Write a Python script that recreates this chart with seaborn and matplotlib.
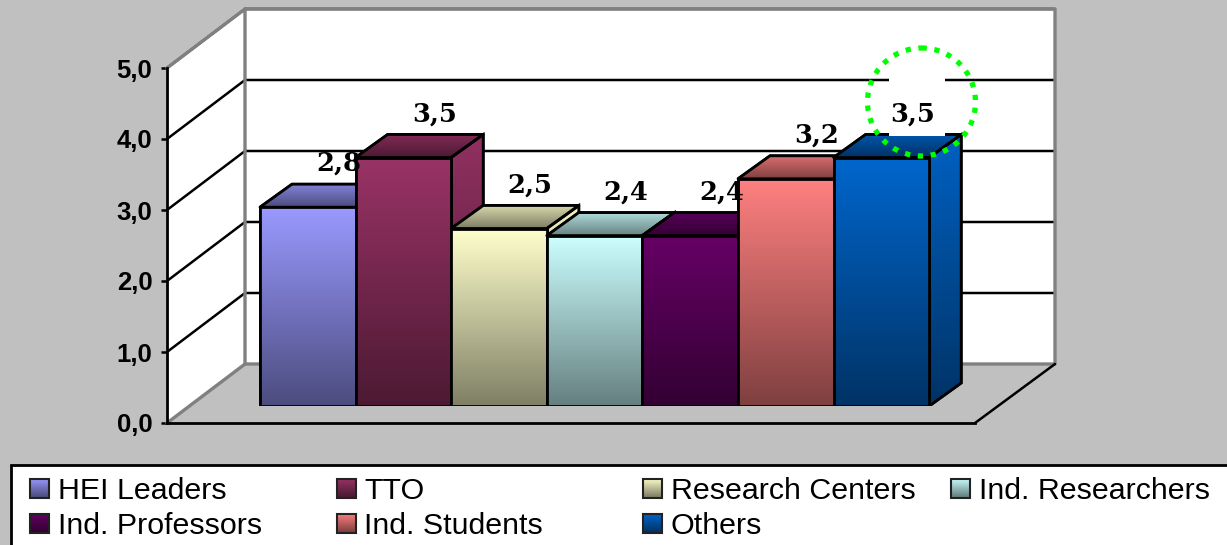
import numpy as np
import pandas as pd
import matplotlib
matplotlib.use("Agg")
import matplotlib.pyplot as plt
from matplotlib.patches import Polygon, Rectangle, Ellipse
from matplotlib.colors import to_rgb
import seaborn as sns

# Survey scores per group of respondents
groups = ["HEI Leaders", "TTO", "Research Centers", "Ind. Researchers",
          "Ind. Professors", "Ind. Students", "Others"]
scores = [2.8, 3.5, 2.5, 2.4, 2.4, 3.2, 3.5]
colors = ["#9999FF", "#993366", "#FFFFCC", "#CCFFFF", "#660066", "#FF8080", "#0066CC"]
axis_ticks = [0, 1, 2, 3, 4, 5]
axis_labels = ["0,0", "1,0", "2,0", "3,0", "4,0", "5,0"]

W, H = 1227, 545
GREY = "#C0C0C0"
WALL = "#808080"

sns.set_theme(style="white", rc={"font.family": ["Liberation Sans", "DejaVu Sans"]})
fig = plt.figure(figsize=(W / 100, H / 100), dpi=100, facecolor=GREY)

BAR_W = 95.6          # pixels per category
UNIT = 71.0           # pixels per score unit
X_LEFT = 260.0        # pixel of the first bar's left edge


def add_axes_px(left, right, y_zero, y_five):
    return fig.add_axes([left / W, 1 - y_zero / H, (right - left) / W, (y_zero - y_five) / H])


x_of = lambda px: (px - X_LEFT) / BAR_W - 0.5

# Chart box: the front plane of the 3D frame carries the score axis
ax = add_axes_px(167, 975, 423, 68)
ax.set_facecolor("none")
ax.set_xlim(x_of(167), x_of(975))
ax.set_ylim(0, 5)

wall_dx, wall_dy = 78 / BAR_W, 59 / UNIT
x0, x1 = ax.get_xlim()
back_l, back_r = x0 + wall_dx, x1 + 80 / BAR_W
ax.add_patch(Polygon([(x0, 0), (back_l, wall_dy), (back_l, 5 + wall_dy), (x0, 5)],
                     fc="white", ec="none", clip_on=False, zorder=0.1))
ax.add_patch(Polygon([(back_l, wall_dy), (back_r, wall_dy), (back_r, 5 + wall_dy), (back_l, 5 + wall_dy)],
                     fc="white", ec="none", clip_on=False, zorder=0.1))
for t in axis_ticks[1:]:
    ax.plot([x0, back_l, back_r], [t, t + wall_dy, t + wall_dy],
            color="black", lw=1.8, clip_on=False, zorder=0.5, solid_joinstyle="miter")
# Grey outline of the back walls
ax.plot([x0, back_l, back_r, back_r, back_l, back_l],
        [5, 5 + wall_dy, 5 + wall_dy, wall_dy, wall_dy, 5 + wall_dy],
        color=WALL, lw=2.4, clip_on=False, zorder=0.6)
ax.plot([x0, back_l], [0, wall_dy], color=WALL, lw=2.4, clip_on=False, zorder=0.6)
ax.plot([x1, back_r], [0, wall_dy], color="black", lw=1.8, clip_on=False, zorder=0.7)

for side in ("top", "right"):
    ax.spines[side].set_visible(False)
for side in ("left", "bottom"):
    ax.spines[side].set_color("black")
    ax.spines[side].set_linewidth(2)
ax.set_xticks([])
ax.set_yticks(axis_ticks, axis_labels)
ax.tick_params(axis="y", length=4.5, width=1.8, color="black", left=True, pad=6)
for lab in ax.get_yticklabels():
    lab.set_fontsize(18.5)
    lab.set_fontweight("bold")
    lab.set_color("black")

# Bars stand part way into the floor, so their baseline sits above the front edge
ax_bars = add_axes_px(167, 975, 406, 406 - 5 * UNIT)
ax_bars.patch.set_alpha(0)
df = pd.DataFrame({"group": groups, "score": scores})
sns.barplot(data=df, x="group", y="score", hue="group", palette=colors, width=1.0,
            saturation=1, legend=False, edgecolor="black", linewidth=2, ax=ax_bars)

depth_x, depth_y = 32 / BAR_W, 23 / UNIT


def shade(color, k):
    return np.array(to_rgb(color)) * k


def gradient_image(target, top_color, bottom_color, extent, zorder):
    ramp = np.linspace(0, 1, 64)[:, None, None]
    img = (1 - ramp) * top_color[None, None, :] + ramp * bottom_color[None, None, :]
    im = ax_bars.imshow(img, extent=extent, origin="upper", aspect="auto",
                        interpolation="bilinear", zorder=zorder, clip_on=True)
    im.set_clip_path(target)


for i, (bar, c) in enumerate(zip(ax_bars.patches, colors)):
    x, w, h = bar.get_x(), bar.get_width(), bar.get_height()
    z = 2 + i
    bright, dark = shade(c, 1.0), shade(c, 0.5)

    side = Polygon([(x + w, 0), (x + w + depth_x, depth_y),
                    (x + w + depth_x, h + depth_y), (x + w, h)],
                   fc=c, ec="black", lw=2, zorder=z, joinstyle="round")
    top = Polygon([(x, h), (x + w, h), (x + w + depth_x, h + depth_y), (x + depth_x, h + depth_y)],
                  fc=c, ec="black", lw=2, zorder=z, joinstyle="round")
    ax_bars.add_patch(side)
    ax_bars.add_patch(top)
    gradient_image(side, shade(c, 0.95), shade(c, 0.5), (x + w, x + w + depth_x, 0, h + depth_y), z + 0.1)
    gradient_image(top, shade(c, 0.85), dark, (x, x + w + depth_x, h, h + depth_y), z + 0.1)
    for poly in (side, top):
        ax_bars.add_patch(Polygon(poly.get_xy(), fc="none", ec="black", lw=2, zorder=z + 0.2))

    bar.set_zorder(z + 0.3)
    gradient_image(bar, bright, dark, (x, x + w, 0, h), z + 0.4)
    ax_bars.add_patch(Rectangle((x, 0), w, h, fc="none", ec="black", lw=2, zorder=z + 0.5))

ax_bars.set_xlim(x_of(167), x_of(975))
ax_bars.set_ylim(0, 5)
ax_bars.axis("off")

# Overlay in pixel coordinates for value labels, the callout ring and the legend box
over = fig.add_axes([0, 0, 1, 1])
over.set_xlim(0, W)
over.set_ylim(H, 0)
over.axis("off")
over.patch.set_alpha(0)

# The last label sits on a white box that masks the gridline and the bar's top
over.add_patch(Rectangle((889, 76), 56, 60, fc="white", ec="none", zorder=1))

# Value labels float behind and above each bar's top face
for bar, v in zip(ax_bars.patches, scores):
    over.annotate(f"{v:.1f}".replace(".", ","),
                  xy=(bar.get_x() + bar.get_width() / 2, v), xycoords=ax_bars.transData,
                  xytext=(22.5, 31.5), textcoords="offset points",
                  ha="center", va="center", fontsize=18.5, fontweight="bold",
                  family="DejaVu Serif", color="black", zorder=2, annotation_clip=False)

over.add_patch(Ellipse((921.5, 102), 108, 108, fc="none", ec="#00FF00", lw=3.8,
                       ls=(0, (1, 1.45)), zorder=3))

over.add_patch(Rectangle((11, 465), W + 20, 100, fc="white", ec="black", lw=2, zorder=1))
col_x = [30, 336.5, 643, 951]
row_y = [488, 523]
for i, (name, c) in enumerate(zip(groups, colors)):
    cx, cy = col_x[i % 4], row_y[i // 4]
    ramp = np.linspace(0, 1, 32)[:, None, None]
    img = (1 - ramp) * shade(c, 1.0)[None, None, :] + ramp * shade(c, 0.5)[None, None, :]
    over.imshow(img, extent=(cx, cx + 19, cy + 9.5, cy - 9.5), aspect="auto", zorder=2)
    over.add_patch(Rectangle((cx, cy - 9.5), 19, 19, fc="none", ec="#222222", lw=1.5, zorder=3))
    over.text(cx + 28, cy, name, ha="left", va="center_baseline", fontsize=21.9, color="black", zorder=3)
over.set_xlim(0, W)
over.set_ylim(H, 0)

fig.savefig("out.png", dpi=100, facecolor=GREY)
